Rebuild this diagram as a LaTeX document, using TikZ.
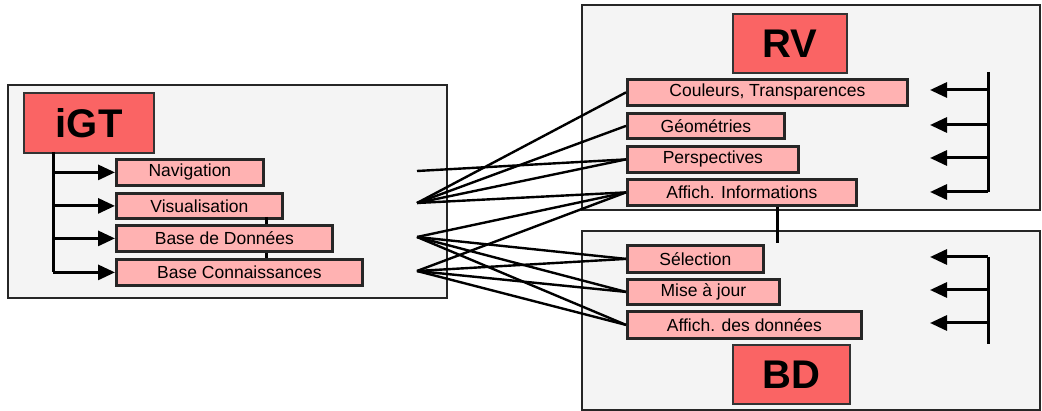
\documentclass[tikz,border=0pt]{standalone}
\usepackage{fontspec}
\setmainfont{Liberation Sans}
\usetikzlibrary{arrows.meta}
\definecolor{panel}{RGB}{244,244,244}
\definecolor{titlered}{RGB}{250,100,100}
\definecolor{itempink}{RGB}{255,178,178}
\tikzset{
  panelbox/.style={draw=black!85, line width=2pt, fill=panel},
  titlebox/.style={draw=black!80, line width=2.2pt, fill=titlered, inner sep=0pt, anchor=north west,
    font=\fontsize{40}{42}\selectfont\bfseries},
  itembox/.style={draw=black!85, line width=2.8pt, fill=itempink, inner sep=0pt, anchor=north west,
    font=\fontsize{17.5}{19}\selectfont},
  link/.style={line width=2.4pt, black},
  arr/.style={line width=3pt, black, -{Triangle[length=17pt,width=15pt]}},
  trunk/.style={line width=3pt, black}
}
\begin{document}
\begin{tikzpicture}[x=1pt,y=-1pt]
\useasboundingbox (0,0) rectangle (1042,411);
\fill[white] (0,0) rectangle (1042,411);
% panels
\draw[panelbox] (8,85) rectangle (447,298);
\draw[panelbox] (582,5) rectangle (1040,210);
\draw[panelbox] (582,231) rectangle (1040,410);
% iGT side
\node[titlebox, minimum width=130pt, minimum height=60pt] (igt) at (23,92) {iGT};
\node[itembox, minimum width=147pt, minimum height=26pt] (nav) at (115,158) {Navigation};
\node[itembox, minimum width=166pt, minimum height=25pt] (vis) at (115,192) {Visualisation};
\node[itembox, minimum width=216pt, minimum height=26pt] (bdd) at (115,224) {Base de Donn\'ees};
\node[itembox, minimum width=246pt, minimum height=26pt] (bc) at (115,258) {Base Connaissances};
\coordinate (t0) at (53,152);
\coordinate (t1) at (53,272);
\draw[trunk] (t0) -- (t1);
\draw[arr] (t0 |- nav.west) -- (nav.west);
\draw[arr] (t0 |- vis.west) -- (vis.west);
\draw[arr] (t0 |- bdd.west) -- (bdd.west);
\draw[arr] (t0 |- bc.west) -- (bc.west);
\coordinate (c1) at (266,217);
\draw[trunk] (c1) -- (c1 |- bdd.north);
\draw[trunk] (c1 |- bdd.south) -- (c1 |- bc.north);
% RV side
\node[titlebox, minimum width=114pt, minimum height=59pt] (rv) at (732,13) {RV};
\node[itembox, minimum width=280pt, minimum height=26pt] (coul) at (626,78) {Couleurs, Transparences};
\node[itembox, minimum width=157pt, minimum height=25pt] (geo) at (626,112) {G\'eom\'etries};
\node[itembox, minimum width=171pt, minimum height=26pt] (persp) at (626,145) {Perspectives};
\node[itembox, minimum width=229pt, minimum height=26pt] (affi) at (626,178) {Affich. Informations};
\coordinate (rt0) at (988,72);
\coordinate (rt1) at (988,192);
\draw[trunk] (rt0) -- (rt1);
\coordinate (ra1) at (930,90);
\coordinate (ra2) at (930,125);
\coordinate (ra3) at (930,158);
\coordinate (ra4) at (930,192);
\draw[arr] (rt0 |- ra1) -- (ra1);
\draw[arr] (rt0 |- ra2) -- (ra2);
\draw[arr] (rt0 |- ra3) -- (ra3);
\draw[arr] (rt1) -- (ra4);
% BD side
\node[itembox, minimum width=136pt, minimum height=27pt] (sel) at (626,244) {S\'election};
\node[itembox, minimum width=152pt, minimum height=25pt] (maj) at (626,278) {Mise \`a jour};
\node[itembox, minimum width=234pt, minimum height=27pt] (affd) at (626,310) {Affich. des donn\'ees};
\node[titlebox, minimum width=117pt, minimum height=59pt] (bd) at (732,344) {BD};
\coordinate (bt0) at (988,257);
\coordinate (bt1) at (988,344);
\draw[trunk] (bt0) -- (bt1);
\coordinate (ba1) at (930,257);
\coordinate (ba2) at (930,290);
\coordinate (ba3) at (930,323);
\draw[arr] (bt0) -- (ba1);
\draw[arr] (bt0 |- ba2) -- (ba2);
\draw[arr] (bt0 |- ba3) -- (ba3);
% link between RV and BD
\coordinate (vl) at (777,243);
\draw[trunk] (affi.south -| vl) -- (vl);
% crossing links
\coordinate (snav) at (417,171);
\coordinate (svis) at (417,203);
\coordinate (sbdd) at (417,237);
\coordinate (sbc) at (417,271);
\draw[link] (snav) -- (persp.west);
\draw[link] (svis) -- (coul.west);
\draw[link] (svis) -- (geo.west);
\draw[link] (svis) -- (persp.west);
\draw[link] (svis) -- (affi.west);
\draw[link] (sbdd) -- (affi.west);
\draw[link] (sbdd) -- (sel.west);
\draw[link] (sbdd) -- (maj.west);
\draw[link] (sbdd) -- (affd.west);
\draw[link] (sbc) -- (affi.west);
\draw[link] (sbc) -- (sel.west);
\draw[link] (sbc) -- (maj.west);
\draw[link] (sbc) -- (affd.west);
\end{tikzpicture}
\end{document}
